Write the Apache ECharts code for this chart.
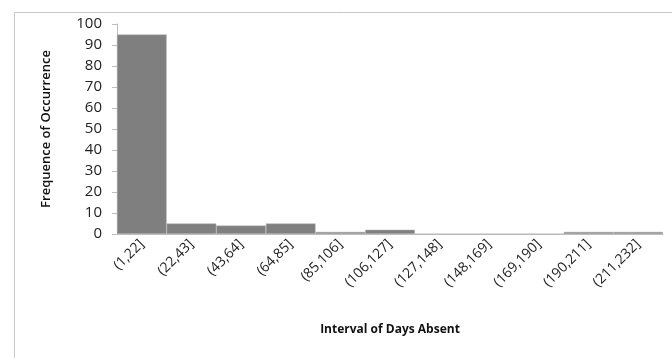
<!DOCTYPE html>
<html><head><meta charset="utf-8">
<script src="https://cdn.jsdelivr.net/npm/echarts@6/dist/echarts.min.js"></script>
<style>html,body{margin:0;padding:0;background:#fff}#c{width:672px;height:358px}</style>
</head><body><div id="c"></div>
<script>
const categories = ['(1,22]','(22,43]','(43,64]','(64,85]','(85,106]','(106,127]','(127,148]','(148,169]','(169,190]','(190,211]','(211,232]'];
const frequencies = [95, 5, 4, 5, 1, 2, 0, 0, 0, 1, 1];
const yTicks = [0, 100, 10];

const chart = echarts.init(document.getElementById('c'), null, {renderer: 'canvas'});
chart.setOption({
  animation: false,
  backgroundColor: '#fff',
  graphic: [{
    type: 'rect', left: 12, top: 10, shape: {width: 700, height: 400},
    style: {fill: 'none', stroke: '#c8c8c8', lineWidth: 1}, silent: true
  }],
  grid: {left: 117, right: 9, top: 24, bottom: 124, containLabel: false},
  xAxis: {
    type: 'category', data: categories,
    axisLine: {lineStyle: {color: '#bfbfbf', width: 1}},
    axisTick: {show: false},
    axisLabel: {rotate: 45, color: '#222', fontFamily: 'Open Sans', fontSize: 14, margin: 8, interval: 0},
    name: 'Interval of Days Absent', nameLocation: 'middle', nameGap: 90,
    nameTextStyle: {color: '#111', fontFamily: 'Open Sans', fontWeight: 'bold', fontSize: 12}
  },
  yAxis: {
    type: 'value', min: yTicks[0], max: yTicks[1], interval: yTicks[2],
    splitLine: {show: false},
    axisLine: {show: true, lineStyle: {color: '#bfbfbf'}},
    axisTick: {show: true, length: 5, lineStyle: {color: '#bfbfbf'}},
    axisLabel: {color: '#222', fontFamily: 'Open Sans', fontSize: 15, margin: 15},
    name: 'Frequence of Occurrence', nameLocation: 'middle', nameGap: 64, nameRotate: 90,
    nameTextStyle: {color: '#111', fontFamily: 'Open Sans', fontWeight: 600, fontSize: 13}
  },
  series: [{
    type: 'bar', data: frequencies, barCategoryGap: '0%',
    itemStyle: {color: '#7f7f7f', borderColor: '#b0b0b0', borderWidth: 0.5}
  }]
});
</script></body></html>
